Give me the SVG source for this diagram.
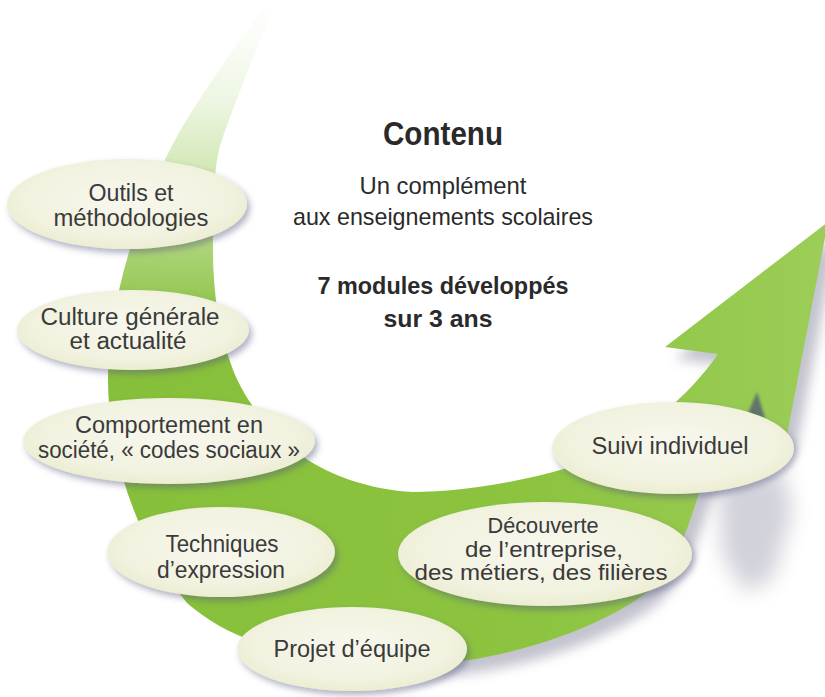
<svg xmlns="http://www.w3.org/2000/svg" xmlns:xlink="http://www.w3.org/1999/xlink" width="825" height="697" viewBox="0 0 825 697">
  <style>
    .lbl { font-family: "Liberation Sans", Arial, sans-serif; font-size: 23px; fill: #3a3a3a; text-anchor: middle; }
    .sm { font-size: 21.5px; }
    .hd { font-family: "Liberation Sans", Arial, sans-serif; fill: #2a2a2a; text-anchor: middle; }
    .node ellipse { fill: url(#ellFill); filter: url(#ellShadow); }
  </style>
  <defs>
    <linearGradient id="arrowFill" gradientUnits="userSpaceOnUse" x1="100" y1="0" x2="825" y2="0">
      <stop offset="0" stop-color="#86bf3a"/>
      <stop offset="0.6" stop-color="#8cc440"/>
      <stop offset="1" stop-color="#9ccd58"/>
    </linearGradient>
    <linearGradient id="tailFade" gradientUnits="userSpaceOnUse" x1="0" y1="0" x2="0" y2="340">
      <stop offset="0" stop-color="#ffffff" stop-opacity="1"/>
      <stop offset="0.12" stop-color="#ffffff" stop-opacity="0.96"/>
      <stop offset="0.3" stop-color="#ffffff" stop-opacity="0.85"/>
      <stop offset="0.47" stop-color="#ffffff" stop-opacity="0.66"/>
      <stop offset="0.68" stop-color="#ffffff" stop-opacity="0.38"/>
      <stop offset="0.88" stop-color="#ffffff" stop-opacity="0.12"/>
      <stop offset="1" stop-color="#ffffff" stop-opacity="0"/>
    </linearGradient>
    <radialGradient id="ellFill" cx="0.5" cy="0.45" r="0.6">
      <stop offset="0" stop-color="#f7f7ee"/>
      <stop offset="0.7" stop-color="#f2f2e0"/>
      <stop offset="1" stop-color="#e9ebcc"/>
    </radialGradient>
    <filter id="ellShadow" x="-10%" y="-20%" width="125%" height="150%">
      <feGaussianBlur in="SourceAlpha" stdDeviation="3"/>
      <feOffset dx="3" dy="4" result="b"/>
      <feFlood flood-color="#55557e" flood-opacity="0.45"/>
      <feComposite in2="b" operator="in"/>
      <feMerge><feMergeNode/><feMergeNode in="SourceGraphic"/></feMerge>
    </filter>
    <filter id="blur" x="-10%" y="-10%" width="130%" height="130%">
      <feGaussianBlur stdDeviation="6"/>
    </filter>
    <filter id="blurL" x="-50%" y="-50%" width="200%" height="200%">
      <feGaussianBlur stdDeviation="10"/>
    </filter>
    <filter id="blurS" x="-50%" y="-50%" width="200%" height="200%">
      <feGaussianBlur stdDeviation="1.5"/>
    </filter>
    <clipPath id="shadowClip">
      <rect x="380" y="200" width="445" height="497"/>
    </clipPath>
    <path id="arrowPath" d="M 266,4 C 240,40 200,95 175,140 C 140,205 108,300 108,380 C 108,450 135,540 187,603 C 240,650 330,668 420,665 C 500,662 600,630 650,590 C 680,560 690,520 700,490 L 740,438 L 786,440 L 828,222 L 665,347 L 718,354 C 690,395 640,440 567,468 C 520,482 460,492 413,492 C 370,490 330,475 305,458 C 270,435 245,400 233,370 C 218,330 213,290 213,250 C 213,200 214,160 222,140 C 232,110 252,60 274,6 Z"/>
  </defs>

  <rect width="825" height="697" fill="#ffffff"/>

  <g id="arrow">
    <path d="M 718,480 L 785,472 L 792,515 L 772,580 L 745,592 L 722,555 Z" fill="#757590" opacity="0.32" filter="url(#blurL)"/>
    <g clip-path="url(#shadowClip)">
      <use xlink:href="#arrowPath" href="#arrowPath" transform="translate(10,12)" fill="#7d7d94" opacity="0.45" filter="url(#blur)"/>
    </g>
    <use xlink:href="#arrowPath" href="#arrowPath" fill="url(#arrowFill)"/>
    <path d="M 746,418 L 757,392 L 765,418 Z" fill="#5f7468" filter="url(#blurS)"/>
    <rect x="90" y="0" width="210" height="340" fill="url(#tailFade)"/>
  </g>

  <g id="header">
    <text class="hd" x="443" y="145" font-size="33" font-weight="bold" textLength="120" lengthAdjust="spacingAndGlyphs">Contenu</text>
    <text class="hd" x="443" y="194" font-size="24" textLength="167" lengthAdjust="spacingAndGlyphs">Un complément</text>
    <text class="hd" x="443" y="225" font-size="24" textLength="300" lengthAdjust="spacingAndGlyphs">aux enseignements scolaires</text>
    <text class="hd" x="443" y="294" font-size="24" font-weight="bold" fill="#1e1e1e" textLength="251" lengthAdjust="spacingAndGlyphs">7 modules développés</text>
    <text class="hd" x="438" y="327" font-size="24" font-weight="bold" fill="#1e1e1e" textLength="109" lengthAdjust="spacingAndGlyphs">sur 3 ans</text>
  </g>

  <g id="node-outils" class="node">
    <ellipse cx="127" cy="204" rx="120" ry="45"/>
    <text class="lbl" x="131" y="201" textLength="85" lengthAdjust="spacingAndGlyphs">Outils et</text>
    <text class="lbl" x="131" y="226" textLength="155" lengthAdjust="spacingAndGlyphs">méthodologies</text>
  </g>

  <g id="node-culture" class="node">
    <ellipse cx="133" cy="330" rx="116" ry="40"/>
    <text class="lbl" x="130" y="325" textLength="179" lengthAdjust="spacingAndGlyphs">Culture générale</text>
    <text class="lbl" x="128" y="349" textLength="117" lengthAdjust="spacingAndGlyphs">et actualité</text>
  </g>

  <g id="node-comportement" class="node">
    <ellipse cx="169" cy="441" rx="146" ry="43"/>
    <text class="lbl" x="169" y="433" textLength="188" lengthAdjust="spacingAndGlyphs">Comportement en</text>
    <text class="lbl" x="169" y="458" textLength="262" lengthAdjust="spacingAndGlyphs">société, « codes sociaux »</text>
  </g>

  <g id="node-techniques" class="node">
    <ellipse cx="221" cy="552" rx="114" ry="45"/>
    <text class="lbl" x="222" y="552" textLength="113" lengthAdjust="spacingAndGlyphs">Techniques</text>
    <text class="lbl" x="221" y="578" textLength="128" lengthAdjust="spacingAndGlyphs">d’expression</text>
  </g>

  <g id="node-projet" class="node">
    <ellipse cx="352" cy="649" rx="115" ry="42"/>
    <text class="lbl" x="352" y="657" textLength="157" lengthAdjust="spacingAndGlyphs">Projet d’équipe</text>
  </g>

  <g id="node-decouverte" class="node">
    <ellipse cx="545" cy="554" rx="147" ry="52"/>
    <text class="lbl sm" x="543" y="533" textLength="111" lengthAdjust="spacingAndGlyphs">Découverte</text>
    <text class="lbl sm" x="544" y="556.5" textLength="158" lengthAdjust="spacingAndGlyphs">de l’entreprise,</text>
    <text class="lbl sm" x="541" y="580" textLength="253" lengthAdjust="spacingAndGlyphs">des métiers, des filières</text>
  </g>

  <g id="node-suivi" class="node">
    <ellipse cx="673" cy="448" rx="121" ry="46"/>
    <text class="lbl" x="670" y="454" textLength="157" lengthAdjust="spacingAndGlyphs">Suivi individuel</text>
  </g>
</svg>
